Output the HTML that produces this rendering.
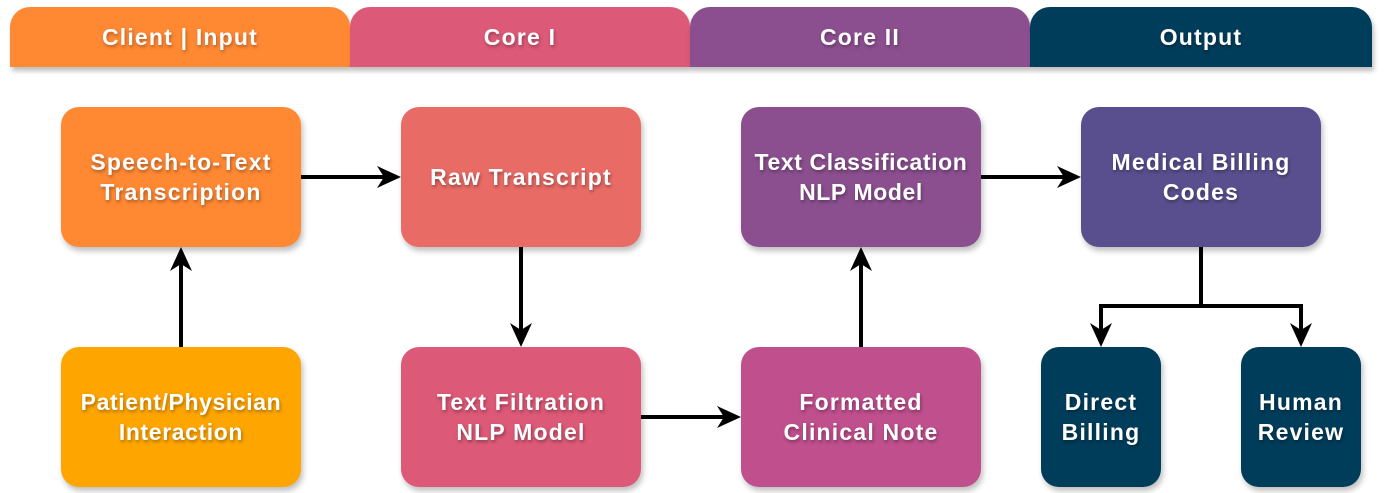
<!DOCTYPE html>
<html><head><style>
body{margin:0;width:1386px;height:493px;background:#fff;position:relative;overflow:hidden;font-family:"Liberation Sans",sans-serif}
.h{position:absolute;top:7px;height:60px;color:#fff;font-weight:bold;font-size:23px;letter-spacing:1.2px;display:flex;align-items:center;justify-content:center;border-radius:20px 20px 0 0;box-shadow:2px 4px 5px rgba(0,0,0,.25);text-shadow:1px 2px 3px rgba(0,0,0,.3)}
.b{position:absolute;width:240px;height:140px;border-radius:18px;color:#fff;font-weight:bold;font-size:23px;letter-spacing:1.2px;line-height:30px;display:flex;align-items:center;justify-content:center;text-align:center;box-shadow:2px 4px 6px rgba(0,0,0,.25);text-shadow:1px 2px 3px rgba(0,0,0,.35)}
svg{position:absolute;left:0;top:0}
</style></head><body>
<div class="h" style="left:10px;width:340px;background:#FF8833">Client | Input</div>
<div class="h" style="left:350px;width:340px;background:#DC5977">Core I</div>
<div class="h" style="left:690px;width:340px;background:#8B4F8F">Core II</div>
<div class="h" style="left:1030px;width:342px;background:#003D5A">Output</div>

<div class="b" style="left:61px;top:107px;background:#FF8833">Speech-to-Text<br>Transcription</div>
<div class="b" style="left:401px;top:107px;background:#E96B65">Raw Transcript</div>
<div class="b" style="left:741px;top:107px;background:#8B4F8F;letter-spacing:0.6px">Text Classification<br>NLP Model</div>
<div class="b" style="left:1081px;top:107px;background:#5A4F8E">Medical Billing<br>Codes</div>
<div class="b" style="left:61px;top:347px;background:#FFA500;letter-spacing:0.6px">Patient/Physician<br>Interaction</div>
<div class="b" style="left:401px;top:347px;background:#DC5977">Text Filtration<br>NLP Model</div>
<div class="b" style="left:741px;top:347px;background:#BF4F8D">Formatted<br>Clinical Note</div>
<div class="b" style="left:1041px;top:347px;width:120px;background:#003D5A">Direct<br>Billing</div>
<div class="b" style="left:1241px;top:347px;width:120px;background:#003D5A">Human<br>Review</div>

<svg width="1386" height="493">
<g stroke="#000" stroke-width="4" fill="none">
<line x1="301" y1="177" x2="388" y2="177"/>
<line x1="181" y1="347" x2="181" y2="260"/>
<line x1="521" y1="247" x2="521" y2="334"/>
<line x1="641" y1="417" x2="728" y2="417"/>
<line x1="861" y1="347" x2="861" y2="260"/>
<line x1="981" y1="177" x2="1068" y2="177"/>
<polyline points="1201,247 1201,306 1101,306 1101,334"/>
<polyline points="1201,306 1301,306 1301,334"/>
</g>
<g fill="#000">
<path d="M401,177 L377,166 L384,177 L377,188z"/>
<path d="M181,247 L170,271 L181,264 L192,271z"/>
<path d="M521,347 L510,323 L521,330 L532,323z"/>
<path d="M741,417 L717,406 L724,417 L717,428z"/>
<path d="M861,247 L850,271 L861,264 L872,271z"/>
<path d="M1081,177 L1057,166 L1064,177 L1057,188z"/>
<path d="M1101,347 L1090,323 L1101,330 L1112,323z"/>
<path d="M1301,347 L1290,323 L1301,330 L1312,323z"/>
</g>
</svg>
</body></html>
